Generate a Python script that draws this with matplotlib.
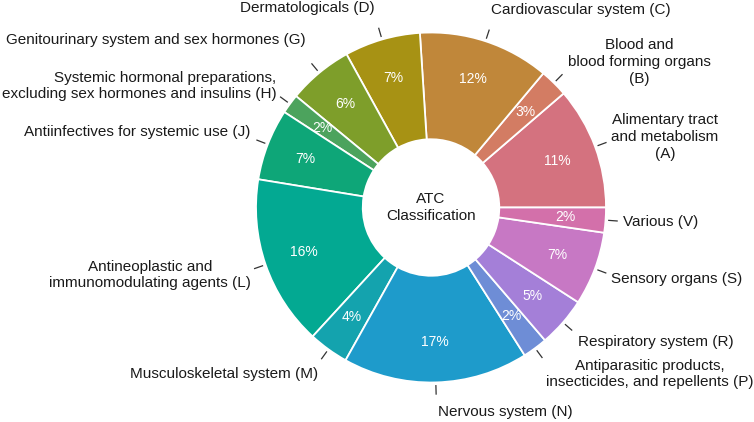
import matplotlib
matplotlib.use("Agg")
import matplotlib.pyplot as plt
import numpy as np

plt.rcParams['font.family'] = ['Liberation Sans', 'DejaVu Sans']

# Data (percent share, counterclockwise from 3 o'clock)
codes = ["A", "B", "C", "D", "G", "H", "J", "L", "M", "N", "P", "R", "S", "V"]
labels = [
    "Alimentary tract\nand metabolism\n(A)",
    "Blood and\nblood forming organs\n(B)",
    "Cardiovascular system (C)",
    "Dermatologicals (D)",
    "Genitourinary system and sex hormones (G)",
    "Systemic hormonal preparations,\nexcluding sex hormones and insulins (H)",
    "Antiinfectives for systemic use (J)",
    "Antineoplastic and\nimmunomodulating agents (L)",
    "Musculoskeletal system (M)",
    "Nervous system (N)",
    "Antiparasitic products,\ninsecticides, and repellents (P)",
    "Respiratory system (R)",
    "Sensory organs (S)",
    "Various (V)",
]
shares = [11.3, 2.6, 12.1, 7.0, 6.0, 1.8, 6.6, 15.75, 3.7, 17.1, 2.3, 4.6, 6.8, 2.3]
colors = ["#D4727F", "#D37C63", "#C0873A", "#A79214", "#7E9E2A", "#4CA35D",
          "#0EA678", "#03A992", "#14A3AE", "#1E9BCB", "#6E8DD6", "#A47FD8",
          "#C778C4", "#D370AA"]

# Layout: label anchor positions (in pie radius units) and alignment
label_pos = [
    (1.337, 0.403, "center"),
    (1.189, 0.831, "center"),
    (0.857, 1.129, "center"),
    (-0.706, 1.140, "center"),
    (-1.574, 0.957, "center"),
    (-0.884, 0.694, "right"),
    (-1.677, 0.431, "center"),
    (-1.606, -0.386, "center"),
    (-1.183, -0.951, "center"),
    (0.423, -1.169, "center"),
    (1.251, -0.951, "center"),
    (1.283, -0.769, "center"),
    (1.406, -0.409, "center"),
    (1.314, -0.083, "center"),
]

W, H = 754, 422
fig = plt.figure(figsize=(W / 100, H / 100), dpi=100)
ax = fig.add_axes([0, 0, 1, 1])
cx, cy, R = 431, 207.5, 175.0

wedges, _, autotexts = ax.pie(
    shares, colors=colors, startangle=0, counterclock=True, radius=1.0,
    autopct=lambda p: f"{p:.0f}%", pctdistance=0.77,
    wedgeprops=dict(width=0.61, edgecolor="white", linewidth=1.3),
    textprops=dict(color="white", fontsize=10),
)

total = sum(shares)
cum = 0.0
for i, s in enumerate(shares):
    mid = np.deg2rad((cum + s / 2) / total * 360)
    cum += s
    ax.plot([1.015 * np.cos(mid), 1.07 * np.cos(mid)],
            [1.015 * np.sin(mid), 1.07 * np.sin(mid)],
            color="#333333", lw=0.9, solid_capstyle="butt")
    x, y, ha = label_pos[i]
    ax.text(x, y, labels[i], ha=ha, va="center", multialignment=ha,
            fontsize=11, color="#1a1a1a", linespacing=1.25)

ax.text(0, 0, "ATC\nClassification", ha="center", va="center",
        fontsize=11, color="#1a1a1a", linespacing=1.25)

ax.set_xlim(-cx / R, (W - cx) / R)
ax.set_ylim(-(H - cy) / R, cy / R)
ax.set_aspect("equal")
ax.axis("off")
fig.savefig("out.png", dpi=100)
